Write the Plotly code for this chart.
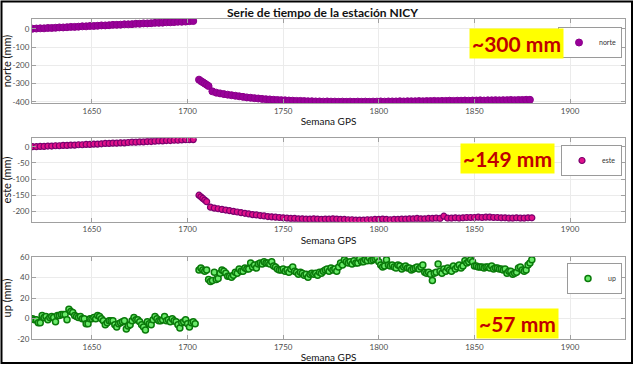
import plotly.graph_objects as go

# ---------------- data ----------------
# norte (mm), every 2 weeks
norte_w1_start = 1619
norte_seg1 = [0, 1, 2, 2, 4, 4, 5, 7, 7, 8, 10, 10, 11, 13, 13, 15, 15, 16, 18, 18, 19, 21,
              21, 22, 24, 24, 25, 27, 27, 29, 29, 30, 32, 32, 33, 35, 35, 36, 38, 38, 39, 41, 42]
norte_w2a_start = 1706
norte_seg2a = [-278, -286, -292, -299, -306, -313]
norte_w2b_start = 1713
norte_seg2b = [-342, -349, -353, -357, -360, -363, -366, -369, -372, -375, -377, -379, -381,
               -383, -385, -386, -388, -389, -390, -391, -392, -393, -394, -394, -395, -396,
               -396, -397, -397, -398, -397, -398, -398, -399, -398, -399, -398, -399, -398,
               -399, -398, -399, -398, -398, -397, -398, -397, -397, -397, -396, -397, -396,
               -396, -396, -395, -396, -395, -395, -394, -395, -394, -394, -393, -394, -393,
               -393, -392, -393, -392, -392, -391, -392, -391, -391, -390, -391, -390, -390,
               -389, -390, -389, -389, -388, -388]

# este (mm)
este_w1_start = 1619
este_seg1 = [0, 0, 1, 1, 2, 2, 3, 3, 4, 4, 5, 5, 6, 6, 7, 7, 8, 8, 9, 10, 10, 11, 11, 12, 12,
             13, 14, 14, 15, 15, 16, 16, 17, 18, 18, 19, 19, 20, 20, 21, 22, 22, 22]
este_w2a_start = 1706
este_seg2a = [-150, -155, -160, -165, -170]
este_w2b_start = 1712
este_seg2b = [-187, -190, -192, -194, -196, -198, -200, -202, -204, -206, -208, -210, -211,
              -213, -214, -216, -217, -218, -219, -220, -221, -222, -222, -223, -223, -224,
              -224, -223, -224, -225, -224, -224, -223, -224, -225, -225, -226, -226, -227,
              -227, -227, -226, -226, -225, -225, -224, -225, -226, -225, -225, -224, -224,
              -223, -223, -222, -223, -223, -222, -222, -221, -222, -215, -221, -221, -220,
              -221, -220, -219, -219, -219, -218, -219, -218, -218, -219, -219, -220, -220,
              -221, -221, -220, -221, -221, -220, -220]

# up (mm), weekly
up_w1_start = 1619
up_seg1 = [0, -1, -1, -4, -4, 3, 1, 2, -1, 1,
           2, 1, -3, 3, 3, 4, 4, 4, -1, 9,
           7, 6, 3, 2, 1, 2, 0, 0, -5, -5,
           0, 0, 1, 0, 3, 2, 0, -2, -6, -4,
           -2, -2, -2, -6, -8, -5, -4, -3, -2, -10,
           -7, -6, -2, 1, -1, -1, -3, -6, -8, -11,
           -3, -5, -6, -1, 2, 0, -2, -2, -1, 2,
           -2, -1, -3, 0, -2, -3, -6, -9, -4, -3,
           -1, -5, -8, -4, -3, -5]
up_w2_start = 1706
up_seg2 = [47, 49, 47, 46, 47, 38, 36, 37, 45, 38,
           39, 44, 47, 46, 44, 41, 41, 40, 42, 45,
           44, 48, 46, 46, 49, 48, 48, 54, 50, 52,
           49, 53, 54, 53, 55, 54, 54, 53, 55, 51,
           50, 48, 47, 47, 48, 46, 47, 45, 48, 50,
           46, 45, 43, 45, 44, 42, 43, 40, 43, 44,
           43, 44, 42, 45, 44, 46, 47, 48, 46, 49,
           47, 48, 46, 50, 54, 52, 57, 55, 54, 55,
           53, 56, 54, 54, 58, 55, 55, 57, 56, 59,
           56, 57, 58, 59, 55, 52, 50, 51, 57, 52,
           51, 52, 50, 49, 52, 51, 48, 50, 51, 49,
           49, 47, 48, 49, 50, 48, 50, 52, 45, 44,
           45, 43, 37, 44, 45, 53, 46, 44, 48, 46,
           49, 47, 46, 51, 48, 50, 52, 49, 51, 56,
           54, 55, 57, 55, 51, 51, 50, 50, 50, 49,
           50, 50, 49, 51, 48, 49, 49, 48, 48, 47,
           48, 44, 46, 46, 43, 44, 45, 49, 50, 47,
           46, 47, 52, 54, 57]

x_ticks = [1650, 1700, 1750, 1800, 1850, 1900]
norte_ticks = [0, -100, -200, -300, -400]
este_ticks = [0, -50, -100, -150, -200]
up_ticks = [60, 40, 20, 0, -20]

title_text = "Serie de tiempo de la estación NICY"
labels = ["norte", "este", "up"]
y_titles = ["norte (mm)", "este (mm)", "up (mm)"]
x_title = "Semana GPS"
notes = ["~300 mm", "~149 mm", "~57 mm"]


def weeks(start, vals, step):
    return [start + step * i for i in range(len(vals))]


norte_x = (weeks(norte_w1_start, norte_seg1, 2) + weeks(norte_w2a_start, norte_seg2a, 1)
           + weeks(norte_w2b_start, norte_seg2b, 2))
norte_y = norte_seg1 + norte_seg2a + norte_seg2b
este_x = (weeks(este_w1_start, este_seg1, 2) + weeks(este_w2a_start, este_seg2a, 1)
          + weeks(este_w2b_start, este_seg2b, 2))
este_y = este_seg1 + este_seg2a + este_seg2b
up_x = weeks(up_w1_start, up_seg1, 1) + weeks(up_w2_start, up_seg2, 1)
up_y = up_seg1 + up_seg2

# ---------------- figure ----------------
W, H = 635, 366
FONT = "Lato, 'Open Sans', sans-serif"

fig = go.Figure()
fig.add_trace(go.Scatter(x=norte_x, y=norte_y, mode="markers", name=labels[0],
                         marker=dict(size=7, color="#990099", line=dict(color="#8a008a", width=1)),
                         xaxis="x", yaxis="y", legend="legend"))
fig.add_trace(go.Scatter(x=este_x, y=este_y, mode="markers", name=labels[1],
                         marker=dict(size=6, color="#e0108a", line=dict(color="#7a006e", width=1.2)),
                         xaxis="x2", yaxis="y2", legend="legend2"))
fig.add_trace(go.Scatter(x=up_x, y=up_y, mode="markers", name=labels[2],
                         marker=dict(size=6, color="#6aea6a", line=dict(color="#0a7a0a", width=1.5)),
                         xaxis="x3", yaxis="y3", legend="legend3"))

xdom = [32 / W, 625 / W]
ydoms = [[1 - 103 / H, 1 - 19 / H], [1 - 221.7 / H, 1 - 138.3 / H], [1 - 339.3 / H, 1 - 256.7 / H]]
yranges = [[-405.5, 53], [-232, 26], [-20, 60]]
yticks = [norte_ticks, este_ticks, up_ticks]

axis_common = dict(showline=True, linecolor="#a0a0a0", linewidth=1, mirror="ticks",
                   ticks="inside", ticklen=4, tickcolor="#a0a0a0", showgrid=True,
                   gridcolor="#ebebeb", zeroline=False,
                   tickfont=dict(size=8, color="#4d4d4d", family=FONT), automargin=False)

layout = dict(width=W, height=H, margin=dict(l=0, r=0, t=0, b=0, autoexpand=False),
              paper_bgcolor="white", plot_bgcolor="white",
              font=dict(family=FONT, color="black"), showlegend=True)

for i in range(3):
    sx = "" if i == 0 else str(i + 1)
    layout["xaxis" + sx] = dict(axis_common, domain=xdom, range=[1618.7, 1928.7],
                                tickvals=x_ticks, ticktext=[str(v) for v in x_ticks],
                                anchor="y" + sx,
                                title=dict(text=x_title, font=dict(size=10, color="#111"), standoff=3))
    layout["yaxis" + sx] = dict(axis_common, domain=ydoms[i], range=yranges[i],
                                tickvals=yticks[i], ticktext=[str(v) for v in yticks[i]],
                                anchor="x" + sx,
                                title=dict(text=y_titles[i], font=dict(size=11, color="#111"), standoff=3))
    leg_top = [27, 145, 263][i]
    layout["legend" + sx] = dict(x=622 / W, xanchor="right", y=1 - leg_top / H, yanchor="top",
                                 bgcolor="white", bordercolor="#9a9a9a", borderwidth=1,
                                 font=dict(size=7, color="#333", family=FONT),
                                 itemwidth=30, tracegroupgap=0)

fig.update_layout(**layout)

fig.add_annotation(text="<b>" + title_text + "</b>", xref="paper", yref="paper",
                   x=322 / W, y=1 - 12 / H, xanchor="center", yanchor="middle", showarrow=False,
                   font=dict(size=12, color="#111", family=FONT))

note_pos = [(516.5, 43), (507, 158), (517, 323.5)]
for (px, py), t in zip(note_pos, notes):
    fig.add_annotation(text="<b>" + t + "</b>", xref="paper", yref="paper",
                       x=px / W, y=1 - py / H, xanchor="center", yanchor="middle",
                       showarrow=False, bgcolor="#ffff00",
                       borderpad=2, font=dict(size=21, color="#c00000", family=FONT))

fig.add_shape(type="rect", xref="paper", yref="paper", x0=1.5 / W, x1=632 / W,
              y0=1 - 363 / H, y1=1 - 1.5 / H, line=dict(color="black", width=2))

fig.write_html("out.html", config={"displayModeBar": False},
               post_script="document.body.style.margin='0px';")
